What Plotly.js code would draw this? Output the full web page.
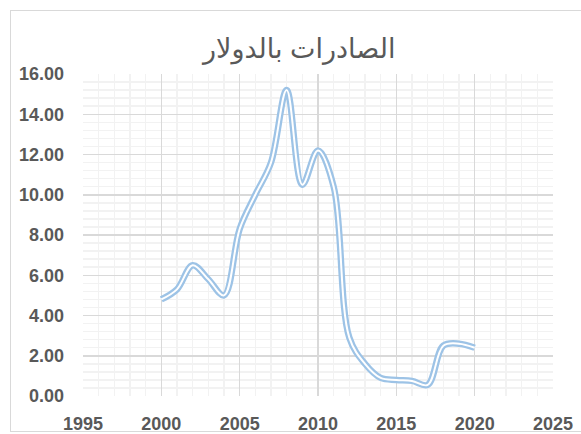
<!DOCTYPE html>
<html>
<head>
<meta charset="utf-8">
<script src="https://cdn.plot.ly/plotly-3.0.1.min.js"></script>
<style>
  html, body { margin: 0; padding: 0; background: #fff; }
  #wrap { position: relative; width: 581px; height: 434px; overflow: hidden; }
  #chart { position: absolute; left: 0; top: 0; width: 581px; height: 434px; }
  #frame { position: absolute; left: 10px; top: 10px; width: 590px; height: 420px;
           border: 1px solid #d9d9d9; pointer-events: none; }
</style>
</head>
<body>
<div id="wrap">
  <div id="chart"></div>
  <div id="frame"></div>
</div>
<script>
const years = [2000, 2001, 2002, 2003, 2004, 2005, 2006, 2007, 2008, 2009, 2010,
               2011, 2012, 2013, 2014, 2015, 2016, 2017, 2018, 2019, 2020];
const exportsUSD = [4.8, 5.3, 6.5, 5.8, 5.0, 8.3, 10.0, 11.6, 15.2, 10.5, 12.2,
                    10.4, 2.9, 1.6, 0.9, 0.8, 0.75, 0.55, 2.5, 2.6, 2.4];
const chartTitle = 'الصادرات بالدولار';

const lineColor = '#9DC3E6';
const fontFamily = 'Liberation Sans, DejaVu Sans, Arial, sans-serif';

const traces = [
  { x: years, y: exportsUSD, type: 'scatter', mode: 'lines',
    line: { color: lineColor, width: 6.5, shape: 'spline', smoothing: 1 },
    hoverinfo: 'skip', showlegend: false },
  { x: years, y: exportsUSD, type: 'scatter', mode: 'lines',
    line: { color: '#ffffff', width: 2, shape: 'spline', smoothing: 1 },
    showlegend: false }
];

const layout = {
  width: 581, height: 434,
  margin: { l: 83, r: 28, t: 74, b: 38 },
  paper_bgcolor: '#ffffff', plot_bgcolor: '#ffffff',
  title: { text: chartTitle, x: 0.515, xanchor: 'center', y: 0.888, yanchor: 'middle',
           font: { family: fontFamily, size: 27, color: '#595959' } },
  xaxis: {
    range: [1995, 2025], dtick: 5, tick0: 1995, showline: false, zeroline: false,
    showgrid: true, gridcolor: '#D9D9D9', gridwidth: 1.5,
    minor: { dtick: 1, showgrid: true, gridcolor: '#F2F2F2', gridwidth: 1.5 },
    ticks: '', ticklabelstandoff: 15,
    tickfont: { family: fontFamily, size: 18, color: '#595959', weight: 'bold' }
  },
  yaxis: {
    range: [0, 16], dtick: 2, tick0: 0, tickformat: '.2f', showline: false, zeroline: false,
    showgrid: true, gridcolor: '#D9D9D9', gridwidth: 1.5,
    minor: { dtick: 0.4, showgrid: true, gridcolor: '#F2F2F2', gridwidth: 1.5 },
    ticks: '', ticklabelstandoff: 18,
    tickfont: { family: fontFamily, size: 18, color: '#595959', weight: 'bold' }
  }
};

Plotly.newPlot('chart', traces, layout, { staticPlot: true, displayModeBar: false });
</script>
</body>
</html>
